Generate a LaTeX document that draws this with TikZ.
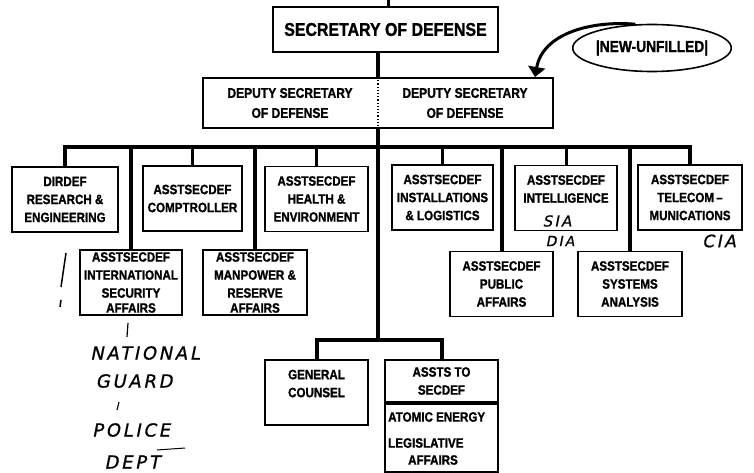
\documentclass[tikz,border=0pt]{standalone}
\usepackage{fontspec}
\usetikzlibrary{arrows.meta,shapes.geometric,positioning}
\newfontfamily\boxfont{Liberation Sans}[FakeStretch=0.86, BoldFeatures={FakeBold=1.2}]
\newfontfamily\handfont{DejaVu Sans}[FakeSlant=0.2, LetterSpace=15, FakeBold=0.8]

\begin{document}
\begin{tikzpicture}[
    x=1pt, y=-1pt,
    box/.style={draw, line width=1.8pt, fill=white, align=center, inner sep=1pt,
        minimum width=103, minimum height=65, font=\boxfont\bfseries\fontsize{13.5}{18}\selectfont},
    txt/.style={align=center, inner sep=0pt, font=\boxfont\bfseries\fontsize{13.5}{18}\selectfont},
    hand/.style={inner sep=0pt, font=\handfont\fontsize{18}{20}\selectfont},
    bus/.style={line width=4pt},
    drop/.style={line width=3pt},
    >={Triangle[length=10pt, width=17pt]}
]
    \useasboundingbox (0,0) rectangle (754,473);

    % top of the chart
    \node[box, minimum width=225, minimum height=45, font=\boxfont\bfseries\fontsize{18.5}{20}\selectfont] (SD) at (385.5,29.5) {SECRETARY OF DEFENSE};
    \node[box, minimum width=350, minimum height=50] (DSD) at (378,103) {};
    \node[txt, font=\boxfont\bfseries\fontsize{14}{20}\selectfont] (DSL) at (290,103) {DEPUTY SECRETARY\\OF DEFENSE};
    \node[txt, font=\boxfont\bfseries\fontsize{14}{20}\selectfont] (DSR) at (465,103) {DEPUTY SECRETARY\\OF DEFENSE};
    \draw[line width=1.2pt, dotted] (DSD.north) -- (DSD.south);

    % the new post (oval and arrow)
    \node[ellipse, draw, line width=1.6pt, minimum width=140, minimum height=47, inner sep=0pt,
        font=\boxfont\bfseries\fontsize{16}{16}\selectfont] (NU) at (652,48) {|NEW-UNFILLED|};
    \coordinate (TIP) at (535,77);
    \draw[line width=3pt, ->] (NU.125) to[out=175, in=80] (TIP);

    % first row
    \node[box, minimum width=106] (RE) at (65,199.5) {DIRDEF\\RESEARCH \&\\ENGINEERING};
    \node[box, minimum width=99]  (CT) at (192.5,198.5) {ASSTSECDEF\\COMPTROLLER};
    \node[box] (HE) at (316.5,199) {ASSTSECDEF\\HEALTH \&\\ENVIRONMENT};
    \node[box, minimum width=101] (IL) at (442.5,197.5) {ASSTSECDEF\\INSTALLATIONS\\\& LOGISTICS};
    \node[box, minimum width=102] (IN) at (566,198) {ASSTSECDEF\\INTELLIGENCE\\\mbox{}};
    \node[box, minimum width=104] (TC) at (690,197.5) {ASSTSECDEF\\TELECOM\,\textendash\\MUNICATIONS};

    % second row
    \node[box, minimum width=102] (ISA) at (131,282.5) {ASSTSECDEF\\INTERNATIONAL\\SECURITY\\[-3pt]AFFAIRS};
    \node[box, minimum width=104] (MRA) at (255,282.5) {ASSTSECDEF\\MANPOWER \&\\RESERVE\\[-3pt]AFFAIRS};
    \node[box] (PA) at (501.5,284) {ASSTSECDEF\\PUBLIC\\AFFAIRS};
    \node[box, minimum width=104] (SA) at (630,284) {ASSTSECDEF\\SYSTEMS\\ANALYSIS};

    % bottom
    \node[box] (GC) at (316.5,392.5) {GENERAL\\COUNSEL\\\mbox{}};
    \node[box, minimum width=113, minimum height=42] (AS) at (441.5,381) {ASSTS TO\\SECDEF};
    \node[box, below=0pt of AS, minimum width=113, minimum height=68] (ASB) {};
    \node[txt, anchor=west] (AE) at (388,417) {ATOMIC ENERGY};
    \node[txt, anchor=west] (LA) at (388,443) {LEGISLATIVE};
    \node[txt] (AF) at (433,460) {AFFAIRS};

    % lines
    \coordinate (TOP) at (388,0);
    \coordinate (BUS) at (378,147);
    \coordinate (LOW) at (378,340);
    \draw[drop] (TOP) -- (TOP |- SD.north);
    \draw[bus] (SD.south -| DSD.north) -- (DSD.north);
    \draw[bus] (DSD.south) -- (LOW);
    \draw[bus] (RE.north) |- (BUS) -| (TC.north);
    \foreach \n in {CT,HE,IL,IN}
        \draw[drop] (\n.north) -- (\n.north |- BUS);
    \foreach \n in {ISA,MRA,PA,SA}
        \draw[bus] (\n.north) -- (\n.north |- BUS);
    \draw[bus] (GC.north) |- (LOW) -| (AS.north);

    % handwritten notes
    \node[hand, font=\handfont\fontsize{15}{18}\selectfont] (SIA) at (557,221) {SIA};
    \node[hand, font=\handfont\fontsize{14}{18}\selectfont] (DIA) at (560,241) {DIA};
    \node[hand, font=\handfont\fontsize{17}{18}\selectfont] (CIA) at (719,241) {CIA};
    \node[hand] (NG1) at (145,353) {NATIONAL};
    \node[hand] (NG2) at (134,381) {GUARD};
    \node[hand] (PD1) at (131,430) {POLICE};
    \node[hand] (PD2) at (132,462) {DEPT};
    \draw[line width=1.2pt] (128,323) -- (127,337);
    \draw[line width=1.2pt] (119,402) -- (117,410);
    \draw[line width=1.5pt] (66,253) -- (61,287);
    \draw[line width=1.5pt] (61,300) -- (60,307);
    \draw[line width=1pt] (157,450) -- (185,448);
\end{tikzpicture}
\end{document}
